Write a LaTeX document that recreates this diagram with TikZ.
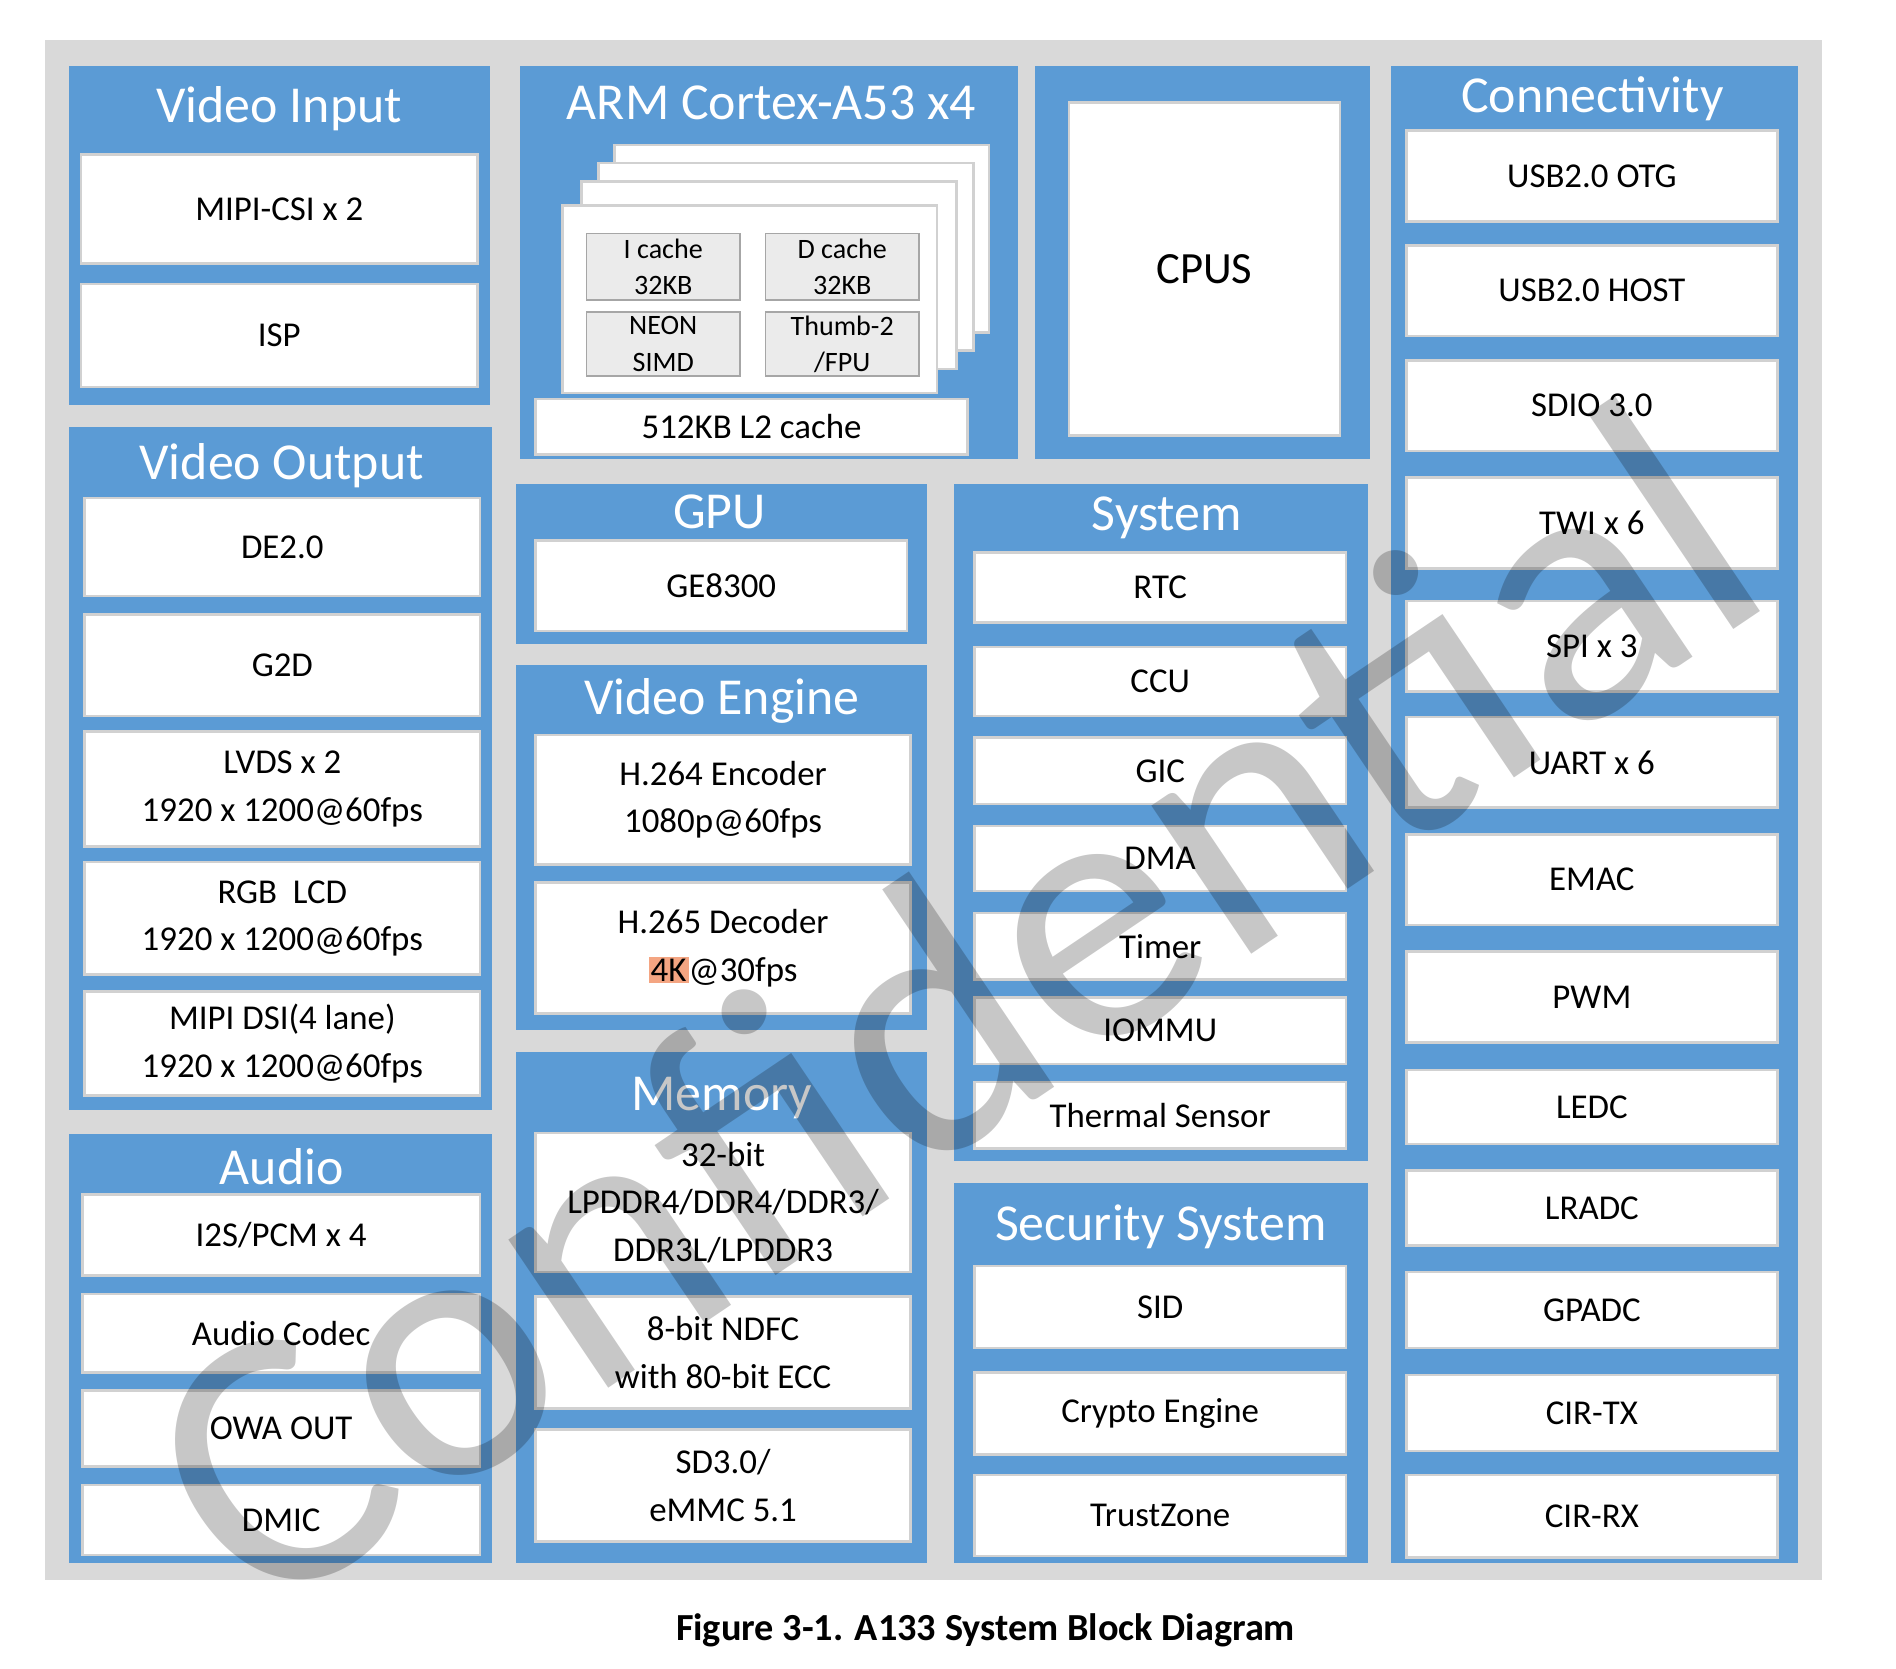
\documentclass[tikz,border=0pt]{standalone}
\usepackage{fontspec}
\setmainfont{Carlito}
\definecolor{blu}{HTML}{5B9BD5}
\definecolor{frame}{HTML}{D9D9D9}
\definecolor{hl}{HTML}{F4A582}
\begin{document}
\begin{tikzpicture}[x=0.01cm,y=-0.01cm,
 panel/.style={fill=blu,draw=none},
 wbox/.style={fill=white,draw=black!18,line width=0.6pt},
 ttl/.style={text=white,font=\fontsize{12.2}{14}\selectfont},
 lbl/.style={align=center,font=\fontsize{8.2}{11.2}\selectfont},
 sml/.style={align=center,font=\fontsize{6.6}{8.5}\selectfont}]
\useasboundingbox (0,0) rectangle (1568,1380);
\fill[white] (0,0) rectangle (1568,1380);
\fill[frame] (37,33) rectangle (1507,1307);
\newcommand{\bx}[6]{\draw[wbox] (#1,#2) rectangle (#3,#4) node[lbl,midway] (#5) {#6};}
% Video Input
\fill[panel] (57,55) rectangle (405,335);
\node[ttl] (tvi) at (231,90) {Video Input};
\bx{67}{128}{395}{218}{mipicsi}{MIPI-CSI x 2}
\bx{67}{235}{395}{320}{isp}{ISP}
% Video Output
\fill[panel] (57,353) rectangle (407,918);
\node[ttl] (tvo) at (233,385) {Video Output};
\bx{70}{412}{397}{493}{de}{DE2.0}
\bx{70}{508}{397}{592}{gtd}{G2D}
\bx{70}{605}{397}{700}{lvds}{LVDS x 2\\1920 x 1200@60fps}
\bx{70}{713}{397}{806}{rgb}{RGB\ \ LCD\\1920 x 1200@60fps}
\bx{70}{820}{397}{906}{dsi}{MIPI DSI(4 lane)\\1920 x 1200@60fps}
% Audio
\fill[panel] (57,938) rectangle (407,1293);
\node[ttl] (tau) at (233,965) {Audio};
\bx{68}{988}{397}{1055}{i2s}{I2S/PCM x 4}
\bx{68}{1070}{397}{1135}{codec}{Audio Codec}
\bx{68}{1150}{397}{1213}{owa}{OWA OUT}
\bx{68}{1228}{397}{1286}{dmic}{DMIC}
% ARM
\fill[panel] (430,55) rectangle (842,380);
\node[ttl] (tarm) at (638,85) {ARM Cortex-A53 x4};
\draw[wbox] (508,120) rectangle (818,275);
\draw[wbox] (495,135) rectangle (805,290);
\draw[wbox] (481,150) rectangle (791,305);
\draw[wbox] (465,170) rectangle (775,325);
\draw[fill=black!8,draw=black!35] (485,193) rectangle (612,248) node[sml,midway] (ic) {I cache\\32KB};
\draw[fill=black!8,draw=black!35] (633,193) rectangle (760,248) node[sml,midway] (dc) {D cache\\32KB};
\draw[fill=black!8,draw=black!35] (485,258) rectangle (612,311) node[sml,midway] (neon) {NEON\\SIMD};
\draw[fill=black!8,draw=black!35] (633,258) rectangle (760,311) node[sml,midway] (thumb) {Thumb-2\\/FPU};
\bx{443}{330}{800}{376}{ltwo}{512KB L2 cache}
% CPUS
\fill[panel] (856,55) rectangle (1133,380);
\draw[wbox] (884,85) rectangle (1108,360) node[midway,font=\fontsize{10.5}{13}\selectfont] (cpus) {CPUS};
% GPU
\fill[panel] (427,400) rectangle (767,533);
\node[ttl] (tgpu) at (595,423) {GPU};
\bx{443}{447}{750}{522}{ge}{GE8300}
% Video Engine
\fill[panel] (427,550) rectangle (767,852);
\node[ttl] (tve) at (597,580) {Video Engine};
\bx{443}{608}{753}{715}{enc}{H.264 Encoder\\1080p@60fps}
\bx{443}{730}{753}{838}{dec}{H.265 Decoder\\{\setlength{\fboxsep}{0.5pt}\colorbox{hl}{4K}}@30fps}
% Memory
\fill[panel] (427,870) rectangle (767,1293);
\node[ttl] (tmem) at (597,908) {Memory};
\bx{443}{937}{753}{1052}{ddr}{32-bit\\LPDDR4/DDR4/DDR3/\\DDR3L/LPDDR3}
\bx{443}{1072}{753}{1165}{ndfc}{8-bit NDFC\\with 80-bit ECC}
\bx{443}{1182}{753}{1275}{sd}{SD3.0/\\eMMC 5.1}
% System
\fill[panel] (789,400) rectangle (1131,960);
\node[ttl] (tsys) at (965,428) {System};
\bx{806}{457}{1113}{515}{rtc}{RTC}
\bx{806}{535}{1113}{592}{ccu}{CCU}
\bx{806}{610}{1113}{665}{gic}{GIC}
\bx{806}{683}{1113}{737}{dma}{DMA}
\bx{806}{755}{1113}{810}{timer}{Timer}
\bx{806}{825}{1113}{880}{iommu}{IOMMU}
\bx{806}{895}{1113}{950}{therm}{Thermal Sensor}
% Security
\fill[panel] (789,978) rectangle (1131,1293);
\node[ttl] (tsec) at (960,1015) {Security System};
\bx{806}{1047}{1113}{1115}{sid}{SID}
\bx{806}{1135}{1113}{1203}{crypto}{Crypto Engine}
\bx{806}{1220}{1113}{1287}{tz}{TrustZone}
% Connectivity
\fill[panel] (1150,55) rectangle (1487,1293);
\node[ttl] (tcon) at (1317,82) {Connectivity};
\bx{1163}{108}{1470}{183}{otg}{USB2.0 OTG}
\bx{1163}{203}{1470}{278}{host}{USB2.0 HOST}
\bx{1163}{298}{1470}{373}{sdio}{SDIO 3.0}
\bx{1163}{395}{1470}{470}{twi}{TWI x 6}
\bx{1163}{497}{1470}{572}{spi}{SPI x 3}
\bx{1163}{593}{1470}{668}{uart}{UART x 6}
\bx{1163}{690}{1470}{765}{emac}{EMAC}
\bx{1163}{787}{1470}{862}{pwm}{PWM}
\bx{1163}{885}{1470}{946}{ledc}{LEDC}
\bx{1163}{968}{1470}{1030}{lradc}{LRADC}
\bx{1163}{1052}{1470}{1115}{gpadc}{GPADC}
\bx{1163}{1137}{1470}{1200}{cirtx}{CIR-TX}
\bx{1163}{1220}{1470}{1288}{cirrx}{CIR-RX}
% watermark
\node[rotate=34,text=black,opacity=0.22,font=\fontsize{88}{92}\selectfont] (conf) at (785,830) {Confidential};
% caption
\node[font=\bfseries\fontsize{9}{11}\selectfont] (cap) at (815,1348) {Figure 3-1. A133 System Block Diagram};
\end{tikzpicture}
\end{document}
